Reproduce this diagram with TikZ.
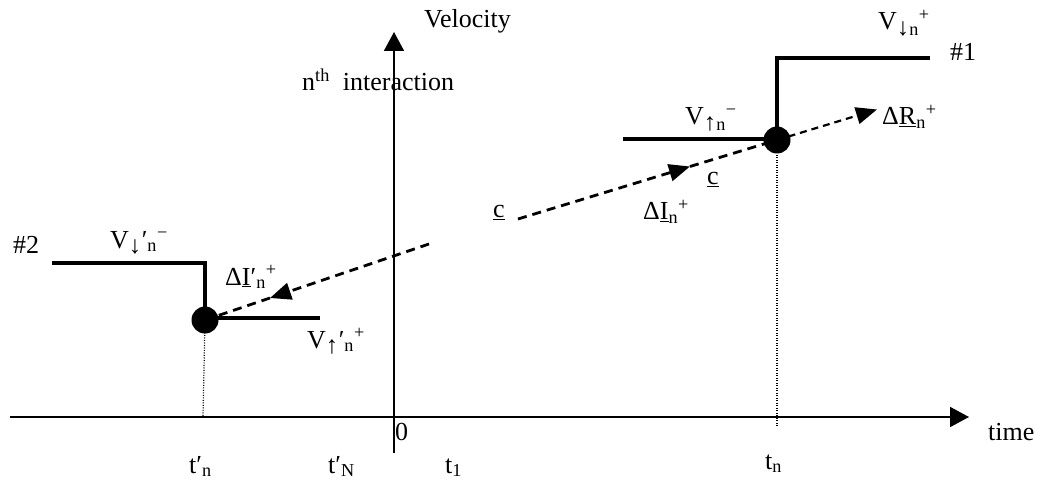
\documentclass[tikz,border=0pt]{standalone}
\usepackage{fontspec}
\setmainfont{Liberation Serif}
\usetikzlibrary{arrows.meta}
\newcommand\dnarr{\scalebox{1.35}{↓}}
\newcommand\uparr{\scalebox{1.35}{↑}}
\begin{document}
\begin{tikzpicture}[x=1pt,y=-1pt,
  lbl/.style={anchor=base west, inner sep=0pt, font=\fontsize{26}{30}\selectfont},
  axis/.style={line width=1.8pt, -{Triangle[length=19pt,width=20pt]}},
  stepline/.style={line width=3.6pt},
  dashline/.style={line width=2.8pt, dash pattern=on 9pt off 6pt},
  thindash/.style={line width=2.2pt, dash pattern=on 7pt off 5pt},
  dtip/.style={-{Triangle[length=21pt,width=17pt]}},
  guide/.style={line width=1.2pt, dash pattern=on 1pt off 1.5pt},
  dotfill/.style={fill=black}]
\useasboundingbox (0,0) rectangle (1044,481);
% coordinates
\coordinate (t0) at (10,417);
\coordinate (t1) at (969,417);
\coordinate (v0) at (394,453);
\coordinate (v1) at (394,32);
\coordinate (d1) at (777,140);
\coordinate (d2) at (205,320);
\coordinate (s1a) at (623,139);
\coordinate (s1b) at (777,139);
\coordinate (s1c) at (777,58);
\coordinate (s1d) at (930,58);
\coordinate (s2a) at (52,263);
\coordinate (s2b) at (205,263);
\coordinate (s2c) at (205,318);
\coordinate (s2d) at (320,318);
\coordinate (cstart) at (518,219);
\coordinate (m1) at (690,166.5);
\coordinate (rtip) at (877,109.5);
\coordinate (lstart) at (429,244);
\coordinate (m2) at (270,298);
\coordinate (g1) at (777,427);
\coordinate (g2) at (203,417);
% axes
\draw[axis] (t0) -- (t1);
\draw[axis] (v0) -- (v1);
% guides
\draw[guide] (d1) -- (g1);
\draw[guide] (d2) -- (g2);
% steps
\draw[stepline] (s1a) -- (s1b) -- (s1c) -- (s1d);
\draw[stepline] (s2a) -- (s2b) -- (s2c);
\draw[stepline] (s2c) -- (s2d);
% dashed connectors
\draw[dashline,dtip] (cstart) -- (m1);
\draw[dashline] (m1) -- (d1);
\draw[thindash,dtip] (d1) -- (rtip);
\draw[dashline,dtip] (lstart) -- (m2);
\draw[dashline] (m2) -- (d2);
% dots
\fill[dotfill] (d1) circle (13.5pt);
\fill[dotfill] (d2) circle (13.5pt);
% labels
\node[lbl] (lvel) at (424,28) {Velocity};
\node[lbl] (lnth) at (302,91) {n\textsuperscript{th}\ \ interaction};
\node[lbl] (ltime) at (988,440) {time};
\node[lbl] (lzero) at (395,440) {0};
\node[lbl] (lh1) at (950,61) {\#1};
\node[lbl] (lh2) at (13,253) {\#2};
\node[lbl] (lvdn) at (878,30) {V\textsubscript{\dnarr n}\textsuperscript{+}};
\node[lbl] (lvun) at (685,125) {V\textsubscript{\uparr n}\textsuperscript{−}};
\node[lbl] (ldr) at (882,125) {Δ\underline{R}\textsubscript{n}\textsuperscript{+}};
\node[lbl] (lvdp) at (110,248) {V\textsubscript{\dnarr}′\textsubscript{n}\textsuperscript{−}};
\node[lbl] (ldip) at (225,285) {Δ\underline{I}′\textsubscript{n}\textsuperscript{+}};
\node[lbl] (lvup) at (307,348) {V\textsubscript{\uparr}′\textsubscript{n}\textsuperscript{+}};
\node[lbl] (lc1) at (493,218) {\underline{c}};
\node[lbl] (lc2) at (707,185) {\underline{c}};
\node[lbl] (ldi) at (643,220) {Δ\underline{I}\textsubscript{n}\textsuperscript{+}};
\node[lbl] (ltpn) at (189,473) {t′\textsubscript{n}};
\node[lbl] (ltpN) at (328,473) {t′\textsubscript{N}};
\node[lbl] (lt1) at (445,473) {t\textsubscript{1}};
\node[lbl] (ltn) at (765,469) {t\textsubscript{n}};
\end{tikzpicture}
\end{document}
